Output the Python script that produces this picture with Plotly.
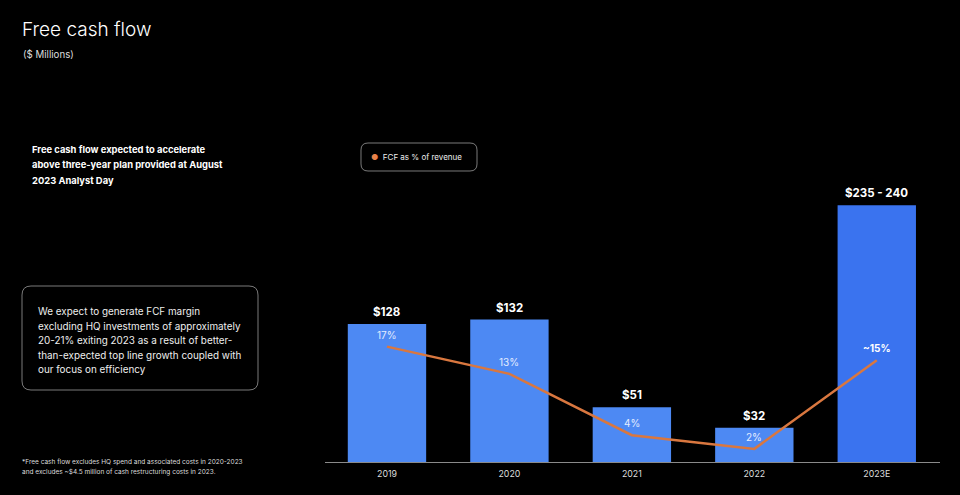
import plotly.graph_objects as go

W, H = 960, 495

years = ["2019", "2020", "2021", "2022", "2023E"]
fcf_values = [128, 132, 51, 32, 237.5]
fcf_labels = ["$128", "$132", "$51", "$32", "$235 - 240"]
fcf_pct = [17, 13, 4, 2, 15]
pct_labels = ["17%", "13%", "4%", "2%", "~15%"]
bar_colors = ["#4D89F3", "#4D89F3", "#4D89F3", "#4D89F3", "#3A73EF"]
series_name = "FCF as % of revenue"

title = "Free cash flow"
subtitle = "($ Millions)"
headline = ["Free cash flow expected to accelerate",
            "above three-year plan provided at August",
            "2023 Analyst Day"]
box_lines = ["We expect to generate FCF margin",
             "excluding HQ investments of approximately",
             "20-21% exiting 2023 as a result of better-",
             "than-expected top line growth coupled with",
             "our focus on efficiency"]
footnote = ["*Free cash flow excludes HQ spend and associated costs in 2020-2023",
            "and excludes ~$4.5 million of cash restructuring costs in 2023."]

FONT = "Inter"
LINE_COLOR = "#D9773F"

def px(x):
    return x / W

def py(y):
    return 1 - y / H

def rounded_rect(x0, y0, x1, y1, r):
    X = lambda v: f"{px(v):.5f}"
    Y = lambda v: f"{py(v):.5f}"
    return (f"M {X(x0+r)},{Y(y0)} L {X(x1-r)},{Y(y0)} Q {X(x1)},{Y(y0)} {X(x1)},{Y(y0+r)} "
            f"L {X(x1)},{Y(y1-r)} Q {X(x1)},{Y(y1)} {X(x1-r)},{Y(y1)} "
            f"L {X(x0+r)},{Y(y1)} Q {X(x0)},{Y(y1)} {X(x0)},{Y(y1-r)} "
            f"L {X(x0)},{Y(y0+r)} Q {X(x0)},{Y(y0)} {X(x0+r)},{Y(y0)} Z")

fig = go.Figure()

fig.add_trace(go.Bar(
    x=years, y=fcf_values, marker=dict(color=bar_colors, line=dict(width=0)),
    showlegend=False, hoverinfo="skip", yaxis="y"))

fig.add_trace(go.Scatter(
    x=years, y=fcf_pct, mode="lines", name=series_name,
    line=dict(color=LINE_COLOR, width=2.5),
    showlegend=False, yaxis="y2", hoverinfo="skip"))

annotations = []
# category axis: annotation x given as category index
for i, (v, lab) in enumerate(zip(fcf_values, fcf_labels)):
    annotations.append(dict(x=i, y=v, xref="x", yref="y", text=f"<b>{lab}</b>",
                            showarrow=False, yanchor="bottom", yshift=3,
                            font=dict(family=FONT, size=11.5, color="white")))
for i, (v, lab) in enumerate(zip(fcf_pct, pct_labels)):
    last = i == len(years) - 1
    annotations.append(dict(x=i, y=v, xref="x", yref="y2",
                            text=f"<b>{lab}</b>" if last else lab,
                            showarrow=False, yanchor="middle", yshift=12,
                            font=dict(family=FONT, size=10, color="white" if last else "#E3ECFF")))

# legend (dot + label) inside rounded box
annotations.append(dict(x=px(369), y=py(157), xref="paper", yref="paper",
                        text=f"<span style='color:#E8824A'>●</span>  {series_name}",
                        showarrow=False, xanchor="left", yanchor="middle",
                        font=dict(family=FONT, size=8, color="#EEEEEE")))

annotations.append(dict(x=px(20), y=py(29), xref="paper", yref="paper", text=title,
                        showarrow=False, xanchor="left", yanchor="middle",
                        font=dict(family=FONT, size=19, color="white", weight=300)))
annotations.append(dict(x=px(21), y=py(54), xref="paper", yref="paper", text=subtitle,
                        showarrow=False, xanchor="left", yanchor="middle",
                        font=dict(family=FONT, size=9.7, color="#DDDDDD")))
for i, line in enumerate(headline):
    annotations.append(dict(x=px(30), y=py(150 + 15 * i), xref="paper", yref="paper",
                            text=f"<b>{line}</b>", showarrow=False, xanchor="left", yanchor="middle",
                            font=dict(family=FONT, size=9.4, color="white")))
for i, line in enumerate(box_lines):
    annotations.append(dict(x=px(36), y=py(311 + 14.5 * i), xref="paper", yref="paper",
                            text=line, showarrow=False, xanchor="left", yanchor="middle",
                            font=dict(family=FONT, size=9.9, color="#EEEEEE")))
for i, line in enumerate(footnote):
    annotations.append(dict(x=px(20), y=py(462 + 10 * i), xref="paper", yref="paper",
                            text=line, showarrow=False, xanchor="left", yanchor="middle",
                            font=dict(family=FONT, size=6.5, color="#DDDDDD")))

shapes = [
    dict(type="path", xref="paper", yref="paper", path=rounded_rect(22, 286, 258, 390, 9),
         line=dict(color="#7A7A7A", width=1)),
    dict(type="path", xref="paper", yref="paper", path=rounded_rect(361, 143, 477, 171, 7),
         line=dict(color="#7A7A7A", width=1)),
    dict(type="line", xref="paper", yref="paper", x0=px(325), x1=px(940),
         y0=py(462.5), y1=py(462.5), line=dict(color="#8A8A8A", width=1.2)),
]

fig.update_layout(
    width=W, height=H,
    paper_bgcolor="black", plot_bgcolor="black",
    margin=dict(l=0, r=0, t=0, b=0),
    bargap=0.36,
    xaxis=dict(type="category", domain=[px(325.75), px(938)], range=[-0.5, len(years) - 0.5],
               autorange=False, showgrid=False, zeroline=False,
               showline=False, tickfont=dict(family=FONT, size=8.8, color="#DDDDDD"),
               ticks="", ticklabelstandoff=5, fixedrange=True),
    yaxis=dict(domain=[py(462.5), py(181)], range=[0, 260], autorange=False,
               visible=False, showgrid=False),
    yaxis2=dict(domain=[py(462.5), py(181)], range=[0, 260 * 1.08 / 6.8], autorange=False,
                overlaying="y", visible=False, showgrid=False),
    annotations=annotations,
    shapes=shapes,
    showlegend=False,
)

fig.write_html("out.html")
